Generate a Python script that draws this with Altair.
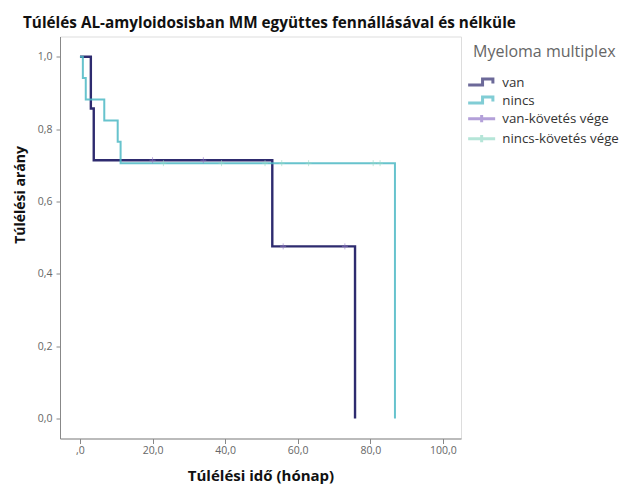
import altair as alt
import pandas as pd

# ---- data ----
van_time = [0.0, 3.0, 3.8, 53.0, 75.8]
van_surv = [1.0, 0.857, 0.714, 0.476, 0.0]
nincs_time = [0.0, 0.8, 1.6, 6.7, 10.4, 11.2, 86.8]
nincs_surv = [1.0, 0.941, 0.882, 0.824, 0.765, 0.706, 0.0]
van_cens_time = [20.0, 34.0, 56.0, 73.0]
van_cens_surv = [0.714, 0.714, 0.476, 0.476]
nincs_cens_time = [23.0, 39.0, 51.0, 55.6, 63.0, 80.8, 82.7]
nincs_cens_surv = [0.706, 0.706, 0.706, 0.706, 0.706, 0.706, 0.706]

legend_labels = ["van", "nincs", "van-követés vége", "nincs-követés vége"]
legend_colors = ["#2e2b6f", "#4cb8c4", "#9479c9", "#97dbc8"]
x_ticks = [0, 20, 40, 60, 80, 100]
y_ticks = [0.0, 0.2, 0.4, 0.6, 0.8, 1.0]

title_text = "Túlélés AL-amyloidosisban MM együttes fennállásával és nélküle"
x_title = "Túlélési idő (hónap)"
y_title = "Túlélési arány"
legend_title = "Myeloma multiplex"

FONT = "Open Sans"

van_df = pd.DataFrame({"t": van_time, "s": van_surv})
nincs_df = pd.DataFrame({"t": nincs_time, "s": nincs_surv})
van_c_df = pd.DataFrame({"t": van_cens_time, "s": van_cens_surv})
nincs_c_df = pd.DataFrame({"t": nincs_cens_time, "s": nincs_cens_surv})
leg_df = pd.DataFrame({"t": [-1000.0] * 4, "s": [0.5] * 4, "label": legend_labels})
ltitle_df = pd.DataFrame({"txt": [legend_title]})
title_df = pd.DataFrame({"txt": [title_text]})

xscale = alt.Scale(domain=[-5.5, 105], nice=False, zero=False)
yscale = alt.Scale(domain=[-0.055, 1.056], nice=False, zero=False)

xaxis = alt.Axis(
    values=x_ticks, title=x_title, grid=False,
    labelExpr="datum.value == 0 ? ',0' : replace(format(datum.value, '.1f'), '.', ',')",
    tickSize=5, labelPadding=2, labelFontSize=10.5, labelColor="#666", labelFont=FONT,
    titleFont=FONT, titleFontSize=15, titleFontWeight="bold", titleColor="#111",
    titleY=37, titleBaseline="middle",
)
yaxis = alt.Axis(
    values=y_ticks, title=y_title, grid=False,
    labelExpr="replace(format(datum.value, '.1f'), '.', ',')",
    tickSize=4, labelPadding=4, labelFontSize=10.5, labelColor="#666", labelFont=FONT,
    titleFont=FONT, titleFontSize=14, titleFontWeight="bold", titleColor="#111",
    titleX=-40, titleY=158, titleBaseline="middle", titleAlign="center", titleAngle=-90,
)

X = alt.X("t:Q", scale=xscale, axis=xaxis)
Y = alt.Y("s:Q", scale=yscale, axis=yaxis)

van_line = alt.Chart(van_df).mark_line(interpolate="step-after", strokeWidth=2.4).encode(
    x=X, y=Y, color=alt.value(legend_colors[0]))
nincs_line = alt.Chart(nincs_df).mark_line(interpolate="step-after", strokeWidth=2.0, opacity=0.85).encode(
    x=X, y=Y, color=alt.value(legend_colors[1]))

cross_small = "M-1,0 H1 M0,-1 V1"
van_c = alt.Chart(van_c_df).mark_point(shape=cross_small, size=36, filled=False, strokeWidth=1, opacity=0.6).encode(
    x=X, y=Y, color=alt.value(legend_colors[2]))
nincs_c = alt.Chart(nincs_c_df).mark_point(shape=cross_small, size=36, filled=False, strokeWidth=1, opacity=0.6).encode(
    x=X, y=Y, color=alt.value(legend_colors[3]))

# legend symbols: scale is 4.5 px per unit with symbolSize 81; paths span x in [-1, 5] -> 27 px
step_path = "M-1,0.5 H2.2 V-0.8 H4.5 V0.2"
cross_path = "M-1,0 H5 M2,-0.8 V0.8"
legend_layer = alt.Chart(leg_df).mark_point(filled=False, clip=True).encode(
    x=X, y=Y,
    color=alt.Color("label:N", sort=legend_labels,
                    scale=alt.Scale(domain=legend_labels, range=legend_colors),
                    legend=alt.Legend(title=None, orient="none", legendX=406, legendY=39.5,
                                      symbolSize=81, labelFont=FONT, labelFontSize=13.3,
                                      labelColor="#333", labelOffset=23, rowPadding=0,
                                      padding=0, symbolFillColor="transparent")),
    shape=alt.Shape("label:N", sort=legend_labels,
                    scale=alt.Scale(domain=legend_labels,
                                    range=[step_path, step_path, cross_path, cross_path])),
    strokeWidth=alt.StrokeWidth("label:N", sort=legend_labels,
                                scale=alt.Scale(domain=legend_labels, range=[3, 3, 1.5, 1.5])),
)

ltitle = alt.Chart(ltitle_df).mark_text(align="left", baseline="middle", font=FONT,
                                        fontSize=16, color="#666").encode(
    x=alt.value(413), y=alt.value(15.5), text="txt:N")

main_title = alt.Chart(title_df).mark_text(align="left", baseline="alphabetic", font=FONT,
                                           fontSize=15.3, fontWeight="bold", color="#111").encode(
    x=alt.value(-37), y=alt.value(-9), text="txt:N")

chart = alt.layer(van_line, nincs_line, van_c, nincs_c, legend_layer, ltitle, main_title).properties(
    width=401, height=402,
    autosize=alt.AutoSizeParams(type="none"),
    padding={"left": 52, "top": 28.5, "right": 158, "bottom": 45},
).configure_view(stroke="#777", strokeWidth=1.2).configure_axis(
    domainColor="#666", domainWidth=1.2, tickColor="#666", tickWidth=1
).configure(background="white")

chart.save("out.html", embed_options={"renderer": "svg", "actions": False})
